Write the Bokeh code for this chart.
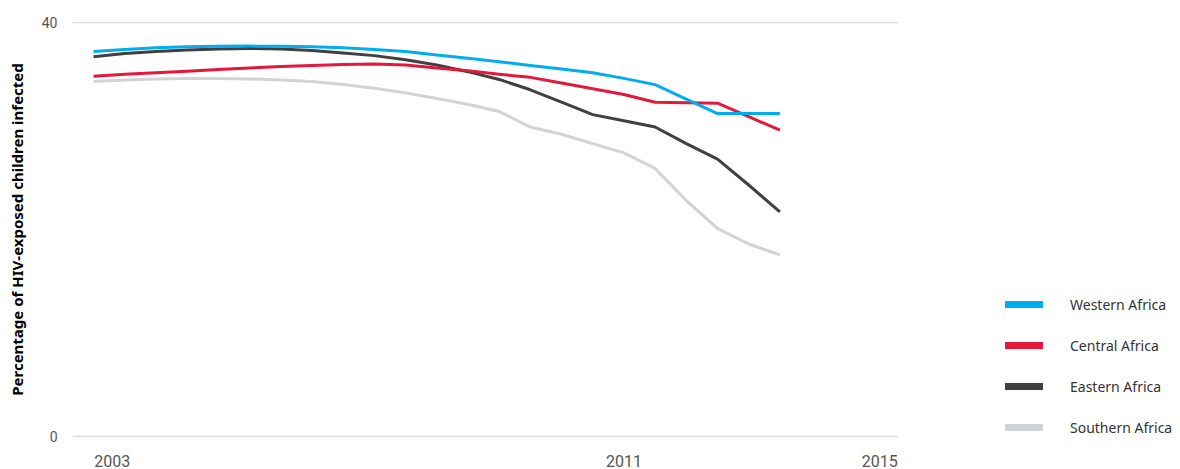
from bokeh.plotting import figure
from bokeh.models import FixedTicker, Range1d, Legend, LegendItem
from bokeh.embed import file_html
from bokeh.resources import INLINE

# ---- data ----
years = [2003.0, 2003.5, 2004.0, 2004.5, 2005.0, 2005.5, 2006.0, 2006.5,
         2007.0, 2007.5, 2008.0, 2008.5, 2009.0, 2009.5, 2010.0, 2010.5,
         2011.0, 2011.5, 2012.0, 2012.5, 2013.0, 2013.5, 2014.0]

western = [37.2, 37.4, 37.55, 37.65, 37.7, 37.72, 37.7, 37.65,
           37.55, 37.4, 37.2, 36.85, 36.55, 36.2, 35.85, 35.5,
           35.15, 34.6, 34.0, 32.6, 31.2, 31.2, 31.2]

central = [34.8, 35.0, 35.15, 35.3, 35.45, 35.6, 35.75, 35.85,
           35.95, 36.0, 35.9, 35.6, 35.35, 35.0, 34.7, 34.15,
           33.6, 33.05, 32.3, 32.25, 32.2, 30.9, 29.6]

eastern = [36.7, 37.0, 37.2, 37.35, 37.45, 37.5, 37.45, 37.3,
           37.05, 36.8, 36.4, 35.9, 35.25, 34.5, 33.5, 32.3,
           31.1, 30.5, 29.9, 28.3, 26.8, 24.3, 21.7]

southern = [34.3, 34.45, 34.55, 34.6, 34.6, 34.55, 34.45, 34.3,
            34.0, 33.65, 33.2, 32.65, 32.1, 31.4, 29.9, 29.2,
            28.3, 27.4, 25.9, 22.8, 20.1, 18.6, 17.55]

series_names = ["Western Africa", "Central Africa", "Eastern Africa", "Southern Africa"]
series_values = [western, central, eastern, southern]
series_colors = ["#00aeef", "#e4183a", "#404040", "#d1d3d4"]

x_tick_labels = ["2003", "2011", "2015"]
x_tick_positions = [2003.3, 2011.5, 2015.6]
y_tick_values = [0, 40]

X_START, X_GRID_END, X_END = 2002.663, 2015.90, 2020.42

# ---- figure ----
p = figure(width=1180, height=469, output_backend="svg", toolbar_location=None,
           x_range=Range1d(X_START, X_END), y_range=Range1d(-0.097, 40.097),
           min_border_left=72, min_border_right=0, min_border_top=21,
           min_border_bottom=32)
p.outline_line_color = None
p.background_fill_color = "white"
p.border_fill_color = "white"

# grid
p.xgrid.visible = False
p.ygrid.ticker = FixedTicker(ticks=y_tick_values)
p.ygrid.grid_line_color = "#dcdcdc"
p.ygrid.grid_line_width = 1.5
p.ygrid.cross_bounds = (X_START, X_GRID_END)

# y axis
p.yaxis.ticker = FixedTicker(ticks=y_tick_values)
p.yaxis.axis_line_color = None
p.yaxis.major_tick_line_color = None
p.yaxis.minor_tick_line_color = None
p.yaxis.major_tick_out = 0
p.yaxis.major_tick_in = 0
p.yaxis.minor_tick_out = 0
p.yaxis.major_label_standoff = 15
p.yaxis.major_label_text_font = "Roboto"
p.yaxis.major_label_text_font_size = "14px"
p.yaxis.major_label_text_color = "#555555"
p.yaxis.axis_label = "Percentage of HIV-exposed children infected"
p.yaxis.axis_label_text_font = "Noto Sans"
p.yaxis.axis_label_text_font_style = "bold"
p.yaxis.axis_label_text_font_size = "15px"
p.yaxis.axis_label_text_color = "#000000"
p.yaxis.axis_label_standoff = 12

# x axis
p.xaxis.ticker = FixedTicker(ticks=x_tick_positions)
p.xaxis.major_label_overrides = {pos: lab for pos, lab in zip(x_tick_positions, x_tick_labels)}
p.xaxis.axis_line_color = None
p.xaxis.major_tick_line_color = None
p.xaxis.minor_tick_line_color = None
p.xaxis.major_tick_out = 0
p.xaxis.major_tick_in = 0
p.xaxis.minor_tick_out = 0
p.xaxis.major_label_standoff = 17
p.xaxis.major_label_text_font = "Roboto"
p.xaxis.major_label_text_font_size = "16px"
p.xaxis.major_label_text_color = "#555555"

# lines (southern at the back)
for name, vals, col in reversed(list(zip(series_names, series_values, series_colors))):
    p.line(years, vals, line_color=col, line_width=3, line_join="round")

# legend samples (dummy renderers, nothing drawn in the plot)
nan = float("nan")
items = []
for name, col in zip(series_names, series_colors):
    r = p.line(x=[nan, nan], y=[nan, nan], line_color=col, line_width=7, line_cap="round")
    items.append(LegendItem(label=name, renderers=[r]))

legend = Legend(items=items, location=(933, 0), orientation="vertical",
                glyph_width=38, glyph_height=20, label_height=20, spacing=21,
                label_standoff=27, padding=0, margin=0,
                border_line_alpha=0, background_fill_alpha=0,
                label_text_font="Noto Sans", label_text_font_size="14px",
                label_text_color="#333333")
p.add_layout(legend)

open("out.html", "w").write(file_html(p, INLINE))
